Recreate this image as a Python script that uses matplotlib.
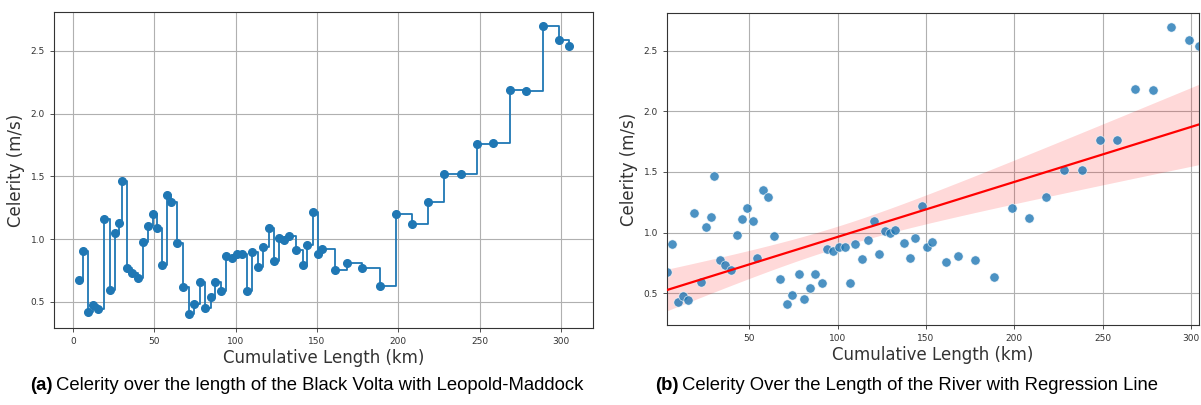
import numpy as np
import matplotlib
matplotlib.use("Agg")
import matplotlib.pyplot as plt

# ----------------------------- DATA -----------------------------
cum_length_km = [3.5, 6.4, 9.5, 12.3, 15.6, 18.9, 22.6, 25.7, 28.4, 30.0,
                 33.3, 36.4, 39.9, 43.0, 45.9, 49.0, 51.9, 54.7, 57.6, 60.5,
                 64.2, 67.7, 71.6, 74.5, 78.2, 80.9, 84.6, 87.4, 91.2, 94.0,
                 97.5, 100.6, 104.1, 107.0, 109.9, 113.8, 117.1, 120.4, 123.7, 126.7,
                 129.6, 132.7, 137.4, 141.2, 144.0, 147.7, 150.6, 153.3, 161.3, 168.4,
                 177.8, 188.5, 198.5, 208.3, 218.1, 228.2, 238.2, 248.4, 258.2, 268.5,
                 278.5, 288.7, 298.6, 304.5]
celerity = [0.677, 0.905, 0.423, 0.474, 0.444, 1.161, 0.593, 1.048, 1.127, 1.463,
            0.770, 0.733, 0.688, 0.979, 1.108, 1.204, 1.093, 0.791, 1.349, 1.296,
            0.971, 0.616, 0.407, 0.487, 0.656, 0.455, 0.540, 0.661, 0.585, 0.868,
            0.847, 0.884, 0.884, 0.585, 0.902, 0.778, 0.939, 1.093, 0.823, 1.011,
            0.995, 1.024, 0.915, 0.791, 0.955, 1.220, 0.884, 0.926, 0.754, 0.807,
            0.770, 0.630, 1.201, 1.124, 1.294, 1.516, 1.516, 1.762, 1.767, 2.185,
            2.180, 2.696, 2.587, 2.542]

caption_a = "Celerity over the length of the Black Volta with Leopold-Maddock"
caption_b = "Celerity Over the Length of the River with Regression Line"

BLUE = "#1f77b4"

# ----------------------------- REGRESSION -----------------------------
# OLS fit with a heteroscedasticity-robust (HC3) 95% band
x = np.array(cum_length_km)
y = np.array(celerity)
X = np.column_stack([np.ones_like(x), x])
bread = np.linalg.inv(X.T @ X)
beta = bread @ X.T @ y
resid = y - X @ beta
h = np.einsum("ij,jk,ik->i", X, bread, X)
meat = X.T @ (X * (resid ** 2 / (1 - h) ** 2)[:, None])
cov = bread @ meat @ bread

xfit = np.linspace(x.min(), x.max(), 100)
Xf = np.column_stack([np.ones_like(xfit), xfit])
yfit = Xf @ beta
half = 1.999 * np.sqrt(np.einsum("ij,jk,ik->i", Xf, cov, Xf))

# ----------------------------- FIGURE -----------------------------
W, H = 1201, 405
fig = plt.figure(figsize=(W / 100, H / 100), dpi=100)


def px_axes(x0, x1, top, bottom):
    return fig.add_axes([x0 / W, (H - bottom) / H, (x1 - x0) / W, (bottom - top) / H])


def style(ax):
    ax.grid(True, color="#b0b0b0", linewidth=0.8)
    ax.set_axisbelow(True)
    ax.tick_params(labelsize=6.5, colors="#333333", length=3, width=0.6)
    for sp in ax.spines.values():
        sp.set_color("#333333")
        sp.set_linewidth(0.8)
    ax.set_xlabel("Cumulative Length (km)", fontsize=12, color="#333333", labelpad=2)
    ax.set_ylabel("Celerity (m/s)", fontsize=12, color="#333333", labelpad=4)


# (a) step plot
ax1 = px_axes(54, 593, 12, 328)
ax1.plot(cum_length_km, celerity, drawstyle="steps-post", color=BLUE, linewidth=1.3)
ax1.plot(cum_length_km, celerity, "o", color=BLUE, markersize=5.5)
ax1.set_xticks([0, 50, 100, 150, 200, 250, 300])
ax1.set_yticks([0.5, 1.0, 1.5, 2.0, 2.5])
style(ax1)

# (b) scatter + regression
ax2 = px_axes(667, 1199, 13, 325)
ax2.scatter(cum_length_km, celerity, s=45, color=BLUE, alpha=0.8,
            edgecolors="white", linewidths=0.5, zorder=2)
ax2.fill_between(xfit, yfit - half, yfit + half, color="red", alpha=0.15,
                 linewidth=0, zorder=1)
ax2.plot(xfit, yfit, color="red", linewidth=1.6, zorder=3)
ax2.set_xlim(x.min(), x.max())
ax2.set_xticks([50, 100, 150, 200, 250, 300])
ax2.set_yticks([0.5, 1.0, 1.5, 2.0, 2.5])
style(ax2)

# captions
cap_y = (H - 385) / H
fig.canvas.draw()
renderer = fig.canvas.get_renderer()
for x_start, tag, cap in [(30, "(a)", caption_a), (655, "(b)", caption_b)]:
    t = fig.text(x_start / W, cap_y, tag, fontsize=13.3, fontweight="bold",
                 family="Liberation Sans", va="center", ha="left")
    bb = t.get_window_extent(renderer)
    fig.text(bb.x1 / W + 4 / W, cap_y, cap, fontsize=13.3,
             family="Liberation Sans", va="center", ha="left")

fig.savefig("out.png", dpi=100)
